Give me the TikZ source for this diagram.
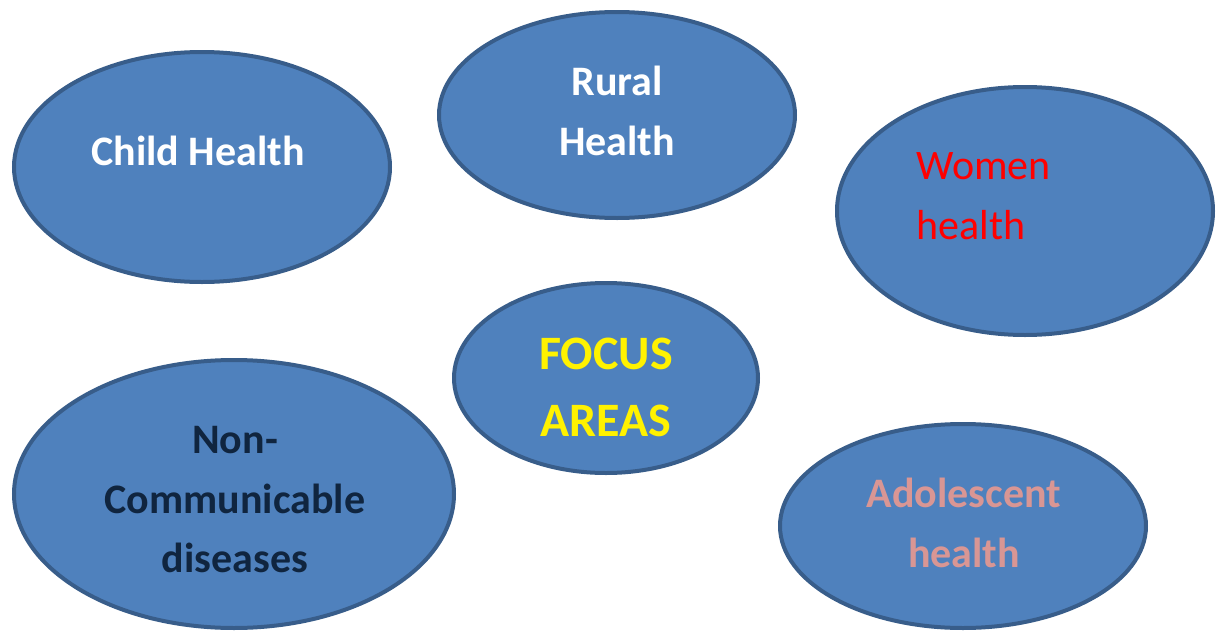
\documentclass[tikz,border=0pt]{standalone}
\usepackage{fontspec}
\setmainfont{Carlito}
\usetikzlibrary{shapes.geometric}
\definecolor{areafill}{HTML}{4F81BD}
\definecolor{areaedge}{HTML}{385D8A}
\definecolor{ncdtext}{HTML}{10253F}
\definecolor{adoltext}{HTML}{D99694}
\tikzset{
  area/.style={ellipse, draw=areaedge, fill=areafill, line width=2pt, inner sep=0pt, outer sep=0pt},
  lbl/.style={anchor=base, inner sep=0pt, font=\fontsize{21}{30}\selectfont\bfseries, text=white},
}

\begin{document}
\begin{tikzpicture}[x=0.5pt,y=-0.5pt]
\useasboundingbox (0,0) rectangle (1217,632);
% the six areas
\node[area, minimum width=188pt, minimum height=115pt] (child) at (202,167) {};
\node[area, minimum width=178pt, minimum height=103pt] (rural) at (617,115) {};
\node[area, minimum width=188pt, minimum height=124pt] (women) at (1025,211) {};
\node[area, minimum width=152pt, minimum height=95pt] (focus) at (606,378) {};
\node[area, minimum width=220pt, minimum height=134pt] (ncd) at (234,494) {};
\node[area, minimum width=183pt, minimum height=102pt] (adol) at (963,526) {};
% labels
\node[lbl] (childA) at (198,165) {Child Health};
\node[lbl] (ruralA) at (617,95) {Rural};
\node[lbl] (ruralB) at (617,155) {Health};
\node[lbl, anchor=base west, font=\fontsize{21}{30}\selectfont, text=red] (womenA) at (916,179) {Women};
\node[lbl, anchor=base west, font=\fontsize{21}{30}\selectfont, text=red] (womenB) at (916,239) {health};
\node[lbl, font=\fontsize{24}{30}\selectfont\bfseries, text=yellow] (focusA) at (606,369) {FOCUS};
\node[lbl, font=\fontsize{24}{30}\selectfont\bfseries, text=yellow] (focusB) at (606,436) {AREAS};
\node[lbl, text=ncdtext] (ncdA) at (235,453) {Non-};
\node[lbl, text=ncdtext] (ncdB) at (235,513) {Communicable};
\node[lbl, text=ncdtext] (ncdC) at (235,572) {diseases};
\node[lbl, text=adoltext] (adolA) at (964,507) {Adolescent};
\node[lbl, text=adoltext] (adolB) at (964,567) {health};
\end{tikzpicture}
\end{document}
